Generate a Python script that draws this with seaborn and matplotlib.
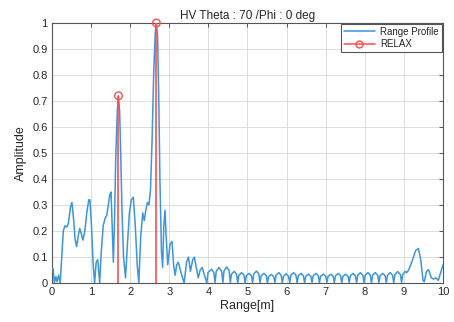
import numpy as np
import pandas as pd
import seaborn as sns
import matplotlib
matplotlib.use("Agg")
import matplotlib.pyplot as plt
from matplotlib.lines import Line2D

# ---- data ----
range_m = [0.00, 0.03, 0.06, 0.10, 0.13, 0.17, 0.21, 0.25, 0.29, 0.33, 0.38, 0.42, 0.47, 0.51,
           0.55, 0.59, 0.63, 0.67, 0.71, 0.75, 0.79, 0.84, 0.89, 0.94, 0.97, 1.01, 1.05, 1.09,
           1.13, 1.17, 1.22, 1.26, 1.31, 1.36, 1.40, 1.44, 1.48, 1.51, 1.54, 1.57, 1.60, 1.63,
           1.67, 1.70, 1.73, 1.76, 1.79, 1.83, 1.88, 1.93, 1.98, 2.03, 2.08, 2.13, 2.18, 2.22,
           2.27, 2.32, 2.36, 2.40, 2.44, 2.48, 2.52, 2.56, 2.60, 2.64, 2.67, 2.70, 2.73, 2.76,
           2.80, 2.83, 2.86, 2.89, 2.92, 2.96, 3.02, 3.07, 3.11, 3.15, 3.19, 3.23, 3.30, 3.38,
           3.44, 3.49, 3.54, 3.60, 3.64, 3.69, 3.74, 3.79, 3.84, 3.90,
           3.96, 3.99, 4.08, 4.14,
           4.17, 4.20, 4.27, 4.34,
           4.37, 4.40, 4.47, 4.53,
           4.56, 4.59, 4.66, 4.72,
           4.75, 4.78, 4.85, 4.91,
           4.94, 4.97, 5.04, 5.10,
           5.13, 5.16, 5.23, 5.29,
           5.32, 5.35, 5.42, 5.48,
           5.51, 5.54, 5.61, 5.67,
           5.70, 5.73, 5.80, 5.86,
           5.89, 5.92, 5.99, 6.05,
           6.08, 6.11, 6.18, 6.24,
           6.27, 6.30, 6.37, 6.43,
           6.46, 6.49, 6.56, 6.62,
           6.65, 6.68, 6.75, 6.81,
           6.84, 6.87, 6.94, 7.00,
           7.03, 7.06, 7.13, 7.19,
           7.22, 7.25, 7.32, 7.38,
           7.41, 7.44, 7.51, 7.57,
           7.60, 7.63, 7.70, 7.76,
           7.79, 7.82, 7.89, 7.95,
           7.98, 8.01, 8.08, 8.14,
           8.17, 8.20, 8.27, 8.33,
           8.36, 8.39, 8.46, 8.52,
           8.55, 8.58, 8.65, 8.71,
           8.74, 8.77, 8.84, 8.91,
           8.94, 8.97,
           9.03, 9.07, 9.12, 9.20, 9.30, 9.37, 9.43, 9.49, 9.52, 9.58, 9.63, 9.70, 9.76, 9.82,
           9.88, 9.94, 10.00]
amplitude = [0.060, 0.055, 0.000, 0.025, 0.005, 0.030, 0.000, 0.100, 0.200, 0.220, 0.215, 0.230, 0.290, 0.310,
             0.250, 0.170, 0.140, 0.180, 0.210, 0.190, 0.165, 0.200, 0.270, 0.320, 0.320, 0.220, 0.080, 0.000,
             0.080, 0.090, 0.000, 0.120, 0.220, 0.250, 0.260, 0.300, 0.340, 0.350, 0.220, 0.080, 0.250, 0.480,
             0.660, 0.720, 0.660, 0.480, 0.280, 0.100, 0.020, 0.150, 0.270, 0.320, 0.330, 0.220, 0.070, 0.000,
             0.180, 0.270, 0.240, 0.280, 0.310, 0.300, 0.360, 0.550, 0.800, 0.960, 1.000, 0.950, 0.720, 0.400,
             0.120, 0.060, 0.220, 0.280, 0.180, 0.070, 0.150, 0.160, 0.070, 0.030, 0.070, 0.080, 0.040, 0.000,
             0.080, 0.100, 0.045, 0.090, 0.100, 0.060, 0.020, 0.050, 0.060, 0.030,
             0.000, 0.040, 0.053, 0.040,
             0.002, 0.045, 0.060, 0.045,
             0.002, 0.047, 0.062, 0.047,
             0.002, 0.034, 0.045, 0.034,
             0.001, 0.030, 0.040, 0.030,
             0.001, 0.028, 0.037, 0.028,
             0.002, 0.035, 0.046, 0.035,
             0.001, 0.028, 0.037, 0.028,
             0.001, 0.025, 0.033, 0.025,
             0.002, 0.030, 0.040, 0.030,
             0.001, 0.026, 0.035, 0.026,
             0.002, 0.030, 0.040, 0.030,
             0.001, 0.028, 0.037, 0.028,
             0.001, 0.026, 0.034, 0.026,
             0.002, 0.028, 0.037, 0.028,
             0.001, 0.026, 0.034, 0.026,
             0.002, 0.026, 0.034, 0.026,
             0.001, 0.028, 0.037, 0.028,
             0.001, 0.026, 0.034, 0.026,
             0.002, 0.028, 0.037, 0.028,
             0.001, 0.030, 0.040, 0.030,
             0.002, 0.030, 0.040, 0.030,
             0.001, 0.030, 0.040, 0.030,
             0.002, 0.028, 0.037, 0.028,
             0.001, 0.030, 0.040, 0.030,
             0.002, 0.033, 0.044, 0.033,
             0.002, 0.032,
             0.045, 0.040, 0.050, 0.080, 0.125, 0.133, 0.090, 0.010, 0.005, 0.045, 0.052, 0.020, 0.015, 0.020,
             0.010, 0.040, 0.070]

relax_range = [1.70, 2.67]
relax_amp = [0.72, 1.00]

title_text = "HV Theta : 70 /Phi : 0 deg"
x_ticks = [0, 1, 2, 3, 4, 5, 6, 7, 8, 9, 10]
y_ticks = [0, 0.1, 0.2, 0.3, 0.4, 0.5, 0.6, 0.7, 0.8, 0.9, 1]
y_tick_labels = ["0", "0.1", "0.2", "0.3", "0.4", "0.5", "0.6", "0.7", "0.8", "0.9", "1"]

# ---- plot ----
sns.set_style("white")
plt.rcParams['font.family'] = ['Liberation Sans', 'DejaVu Sans']
txt = '#262626'

fig = plt.figure(figsize=(4.54, 3.22), dpi=100)
ax = fig.add_axes([0.1145, 0.121, 0.8613, 0.8076])

df = pd.DataFrame({"Range": range_m, "Amplitude": amplitude})
blue = '#3d95da'
red = '#ff4d4d'
sns.lineplot(data=df, x="Range", y="Amplitude", ax=ax, color=blue, lw=1.1,
             sort=False, estimator=None, zorder=3)
ax.vlines(relax_range, 0, relax_amp, color=red, lw=1.2, zorder=4)
rdf = pd.DataFrame({"Range": relax_range, "Amplitude": relax_amp})
sns.scatterplot(data=rdf, x="Range", y="Amplitude", ax=ax, marker='o', s=30,
                facecolors='none', edgecolor=red, linewidth=1.0, zorder=5, clip_on=False)

ax.set_xlim(0, 10)
ax.set_ylim(0, 1)
ax.set_xticks(x_ticks)
ax.set_xticklabels([str(v) for v in x_ticks])
ax.set_yticks(y_ticks)
ax.set_yticklabels(y_tick_labels)
ax.grid(True, color='#dcdcdc', lw=0.7, ls='-')
ax.set_axisbelow(True)
ax.tick_params(direction='in', length=3, width=0.7, colors='#555555',
               labelcolor=txt, labelsize=8, top=True, right=True, pad=3)
for sp in ax.spines.values():
    sp.set_color('#555555')
    sp.set_linewidth(0.8)

ax.set_title(title_text, fontsize=8.5, color=txt, pad=3)
ax.set_xlabel("Range[m]", fontsize=9, color=txt, labelpad=2)
ax.set_ylabel("Amplitude", fontsize=9, color=txt, labelpad=4)

handles = [Line2D([0], [0], color=blue, lw=1.1),
           Line2D([0], [0], color=red, lw=1.1, marker='o', markerfacecolor='none',
                  markeredgecolor=red, markersize=5)]
leg = ax.legend(handles, ["Range Profile", "RELAX"], loc='upper right', fontsize=7,
                frameon=True, fancybox=False, borderaxespad=0.1, handlelength=3.2,
                borderpad=0.3, labelspacing=0.25, handletextpad=0.6)
leg.get_frame().set_edgecolor('#555555')
leg.get_frame().set_linewidth(0.8)
leg.get_frame().set_alpha(1)

fig.savefig("out.png", dpi=100)
